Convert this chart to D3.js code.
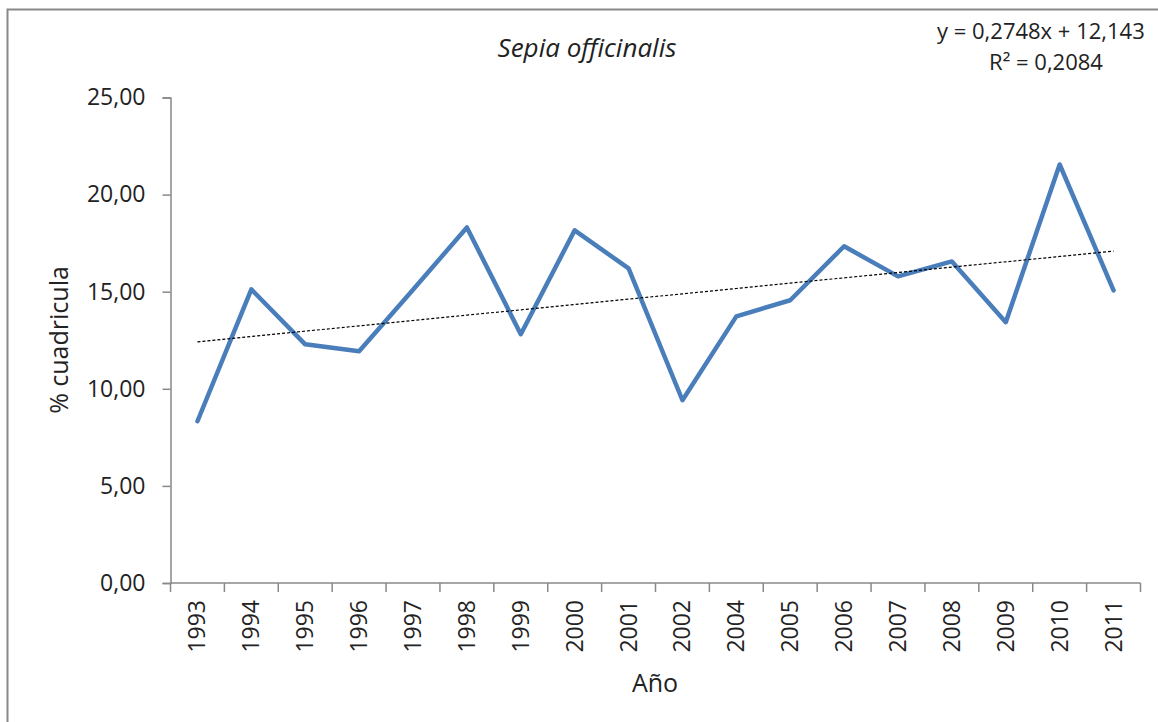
<!DOCTYPE html>
<html>
<head>
<meta charset="utf-8">
<script src="https://cdn.jsdelivr.net/npm/d3@7"></script>
<style>
  body { margin: 0; background: #fff; }
  text { font-family: "Open Sans", sans-serif; fill: #222; }
</style>
</head>
<body>
<svg id="chart"></svg>
<script>
// Data
var years = ["1993","1994","1995","1996","1997","1998","1999","2000","2001","2002","2004","2005","2006","2007","2008","2009","2010","2011"];
var values = [8.33, 15.12, 12.29, 11.93, 15.1, 18.31, 12.81, 18.16, 16.2, 9.41, 13.73, 14.56, 17.34, 15.79, 16.56, 13.43, 21.55, 15.07];
var yTicks = [0, 5, 10, 15, 20, 25];
var trendSlope = 0.2748, trendIntercept = 12.143;

var width = 1158, height = 722;
var margin = {top: 97.5, right: 18, bottom: 139, left: 170.5};
var innerWidth = width - margin.left - margin.right,
    innerHeight = height - margin.top - margin.bottom;

var svg = d3.select('#chart').attr('width', width).attr('height', height);

// Chart area border (runs off the right and bottom)
svg.append('rect')
  .attr('x', 7.5).attr('y', 9.5)
  .attr('width', 1300).attr('height', 1300)
  .attr('fill', 'none').attr('stroke', '#888').attr('stroke-width', 2);

var g = svg.append('g').attr('transform', 'translate(' + margin.left + ',' + margin.top + ')');

var xScale = d3.scaleBand().domain(years).range([0, 970]);
var yScale = d3.scaleLinear().domain([0, 25]).range([innerHeight, 0]);

var fmt = function(d) { return d3.format('.2f')(d).replace('.', ','); };

// Y axis
var yAxis = g.append('g').attr('class', 'y-axis')
  .call(d3.axisLeft(yScale).tickValues(yTicks).tickSize(8).tickFormat(fmt));
yAxis.select('.domain').attr('stroke', '#888').attr('stroke-width', 1.5);
yAxis.selectAll('.tick line').attr('stroke', '#888').attr('stroke-width', 1.5);
yAxis.selectAll('.tick text').attr('font-size', 23).attr('x', -25).attr('fill', '#222')
  .style('font-family', '"Open Sans", sans-serif');

// X axis with ticks at category boundaries
var xAxisG = g.append('g').attr('class', 'x-axis').attr('transform', 'translate(0,' + innerHeight + ')');
xAxisG.append('line').attr('x1', 0).attr('x2', 970).attr('y1', 0).attr('y2', 0)
  .attr('stroke', '#888').attr('stroke-width', 1.5);
var bounds = d3.range(years.length + 1).map(function(i) { return i * xScale.step(); });
xAxisG.selectAll('.xtick').data(bounds).join('line').attr('class', 'xtick')
  .attr('x1', function(d) { return d; }).attr('x2', function(d) { return d; })
  .attr('y1', 0).attr('y2', 9).attr('stroke', '#888').attr('stroke-width', 1.5);
xAxisG.selectAll('.xlabel').data(years).join('text').attr('class', 'xlabel')
  .attr('transform', function(d) { return 'translate(' + (xScale(d) + xScale.bandwidth() / 2 + 8) + ',17) rotate(-90)'; })
  .attr('text-anchor', 'end')
  .attr('font-size', 23)
  .text(function(d) { return d; });

// Data line
var line = d3.line()
  .x(function(d, i) { return xScale(years[i]) + xScale.bandwidth() / 2; })
  .y(function(d) { return yScale(d); });
g.append('path').datum(values)
  .attr('d', line)
  .attr('fill', 'none').attr('stroke', '#4A7EBB').attr('stroke-width', 4.5)
  .attr('stroke-linejoin', 'round').attr('stroke-linecap', 'round');

// Linear trendline
var trend = years.map(function(d, i) { return trendSlope * (i + 1) + trendIntercept; });
g.append('path').datum(trend)
  .attr('d', line)
  .attr('fill', 'none').attr('stroke', '#000').attr('stroke-width', 1.2)
  .attr('stroke-dasharray', '3,2');

// Titles
svg.append('text').attr('x', 587).attr('y', 57).attr('text-anchor', 'middle')
  .attr('font-size', 26).attr('font-style', 'italic').text('Sepia officinalis');
svg.append('text').attr('transform', 'translate(68,340) rotate(-90)').attr('text-anchor', 'middle')
  .attr('font-size', 25).text('% cuadricula');
svg.append('text').attr('x', 655).attr('y', 692).attr('text-anchor', 'middle')
  .attr('font-size', 25).text('Año');

// Trendline equation
svg.append('text').attr('x', 937).attr('y', 39).attr('font-size', 22)
  .text('y = 0,2748x + 12,143');
svg.append('text').attr('x', 1046).attr('y', 70).attr('text-anchor', 'middle').attr('font-size', 22)
  .text('R² = 0,2084');
</script>
</body>
</html>
